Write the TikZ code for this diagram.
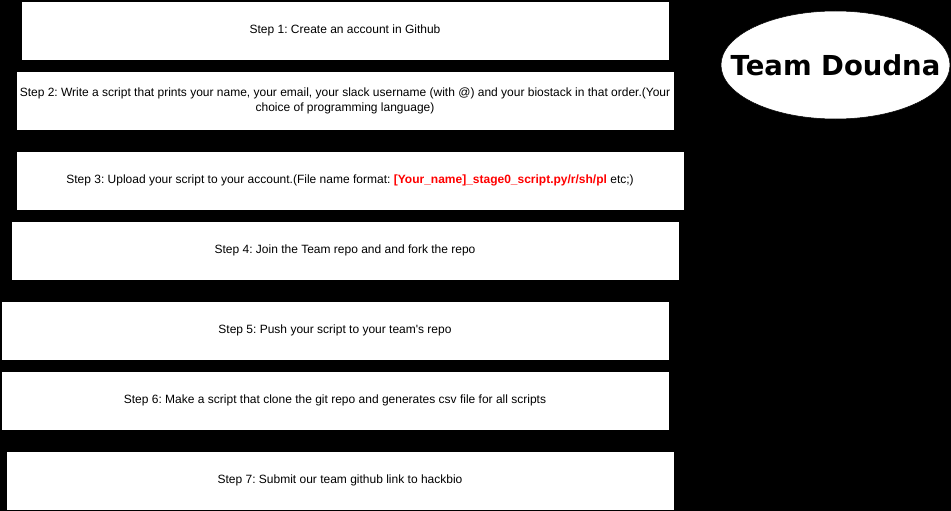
\documentclass[tikz,border=0pt]{standalone}
\usepackage{fontspec}
\setmainfont{Liberation Sans}
\newfontfamily\teamfont{DejaVu Sans}
\usetikzlibrary{positioning,shapes.geometric}
\definecolor{stepred}{HTML}{FF0000}
\frenchspacing

\begin{document}
\begin{tikzpicture}[x=1pt, y=-1pt,
  stepbox/.style={rectangle, draw=black, fill=white, inner sep=0pt, minimum height=59pt, line width=0.5pt, align=center, font=\fontsize{12}{15}\selectfont},
  teambox/.style={ellipse, draw=black, fill=white, inner sep=0pt, minimum width=229pt, minimum height=108pt, line width=0.5pt, font=\teamfont\bfseries\fontsize{27.5}{30}\selectfont},
]
% canvas is 951 x 511, y grows downward
\fill[black] (0,0) rectangle (951,511);

% the seven steps, top to bottom
\node[stepbox, minimum width=648pt] (step1) at (345,30.5) {Step 1: Create an account in Github};
\node[stepbox, minimum width=658pt] (step2) at (345,100.5) {Step 2: Write a script that prints your name, your email, your slack username (with @) and your biostack in that order.(Your\\choice of programming language)};
\node[stepbox, minimum width=668pt] (step3) at (350,180.5) {Step 3: Upload your script to your account.(File name format: \textcolor{stepred}{\textbf{[Your\_name]\_stage0\_script.py/r/sh/pl}} etc;)};
\node[stepbox, minimum width=668pt] (step4) at (345,250.5) {Step 4: Join the Team repo and and fork the repo};
\node[stepbox, minimum width=668pt] (step5) at (335,330.5) {Step 5: Push your script to your team\textquotesingle s repo};
\node[stepbox, minimum width=668pt] (step6) at (335,400.5) {Step 6: Make a script that clone the git repo and generates csv file for all scripts};
\node[stepbox, minimum width=668pt] (step7) at (340,480.5) {Step 7: Submit our team github link to hackbio};

% team name, text kept from widening the ellipse
\node[teambox] (team) at (835.5,65) {\makebox[0pt]{Team Doudna}};
\end{tikzpicture}
\end{document}
